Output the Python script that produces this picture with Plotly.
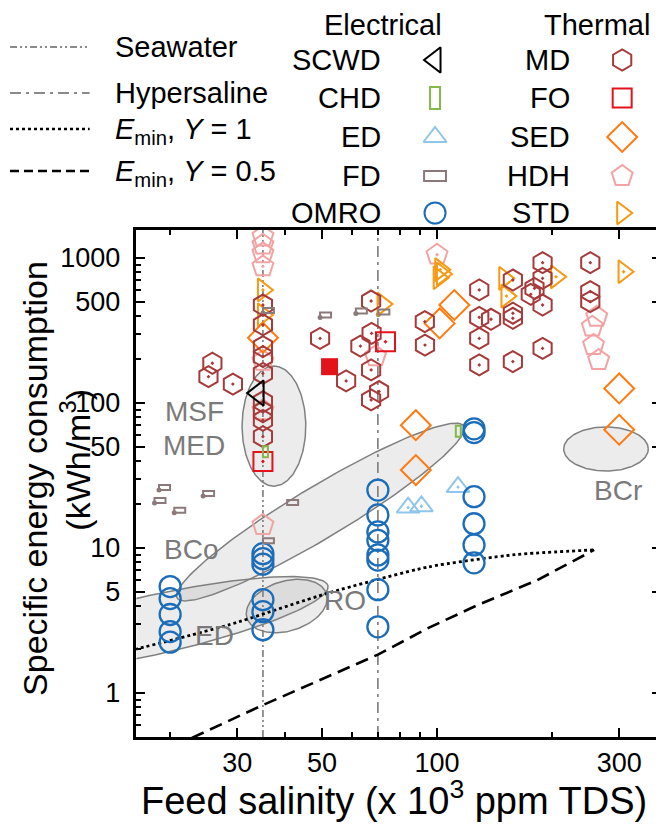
import numpy as np
import plotly.graph_objects as go

# ---------------- data (feed salinity in 10^3 ppm TDS, SEC in kWh/m3) ----------------
SEAWATER = 35
HYPERSALINE = 70

md_x = [35, 35, 35, 35, 35, 35, 35, 35, 35,
        25.8, 25.2, 29.2, 49.4, 57.8, 63, 67.2, 67.4, 67.2, 70.5, 67.2,
        92.9, 93, 129, 129, 138.5, 129, 129, 158, 158, 158, 158, 180, 176,
        189, 189, 189, 189, 252, 252, 252]
md_y = [474, 346, 245, 209, 160, 102, 87, 76, 58.6,
        188, 152, 135, 279, 142, 247, 505, 302, 169, 120, 105,
        364, 251, 602, 390, 378, 279, 183, 705, 416, 384, 193, 618, 562,
        928, 724, 474, 238, 928, 586, 500]

fo_x = [35, 73.3]
fo_y = [39.5, 264.5]
fo_filled_x = [52.3]
fo_filled_y = [178]

sed_x = [35, 111, 101.6, 88, 88, 300, 300]
sed_y = [282, 474, 354, 70.3, 34.5, 126, 65.4]

hdh_x = [35, 35, 35, 35, 35, 35, 69, 262, 255, 257, 265]
hdh_y = [1405, 1235, 1077, 195, 89, 14.4, 210, 393, 336, 251, 198]
hdh_dot_x = [35, 100]
hdh_dot_y = [875, 1054]

std_x = [35, 103, 101, 72, 150]
std_y = [405, 775, 731, 481, 724]
std_dot_x = [35, 102, 152, 205, 308]
std_dot_y = [602, 831, 546, 742, 804]

scwd_x = [34]
scwd_y = [117]

chd_x = [35, 112]
chd_y = [42.3, 58.6]

ed_x = [84, 91, 113.5]
ed_y = [19, 19.4, 26.3]

fd_dot_x = [18.7, 18.2, 20.5, 24.4, 35, 49.4, 61.3, 70.2]
fd_dot_y = [25.1, 20.4, 17.5, 22.8, 417, 388, 415, 408]
fd_x = [40.5, 35]
fd_y = [19.8, 10.8]

omro_x = [20, 20, 20, 20, 20,
          35, 35, 35, 35, 35, 35,
          70, 70, 70, 70, 70, 70, 70, 70,
          125, 125, 125, 125, 125, 125]
omro_y = [5.42, 4.48, 3.48, 2.65, 2.24,
          9.14, 8.44, 7.74, 4.4, 3.64, 2.73,
          25.1, 16.9, 12.9, 11.3, 8.96, 8.26, 5.16, 2.86,
          66.4, 62.5, 22.6, 14.7, 10.5, 7.9]

# minimum energy curves
emin1_x = [15.6, 28.5, 52, 94.8, 160, 258]
emin1_y = [1.95, 2.95, 4.9, 7.4, 9.0, 9.7]
emin05_x = [22.8, 35, 70, 94.7, 128, 183, 258]
emin05_y = [0.49, 0.826, 1.84, 2.8, 4.05, 6.0, 9.7]

# technology regions: centre (data units) and conjugate semi-axes (decades)
region_names = ["MSF/MED", "BCo", "ED", "RO", "BCr"]
region_cx = [37.4, 49.5, 17.6, 40.4, 277]
region_cy = [69.3, 17.7, 2.9, 3.98, 48.2]
region_a = [(0.0, 0.414), (0.3754, 0.593), (0.469, 0.276), (0.1043, 0.0828), (0.1108, 0.0)]
region_b = [(0.0834, 0.0), (0.0347, -0.154), (0.0159, -0.2), (0.0188, -0.165), (0.0, 0.152)]

label_text = ["MSF", "MED", "BCo", "ED", "RO", "BCr"]
label_x = [23.1, 23.1, 22.7, 26.1, 57.5, 298]
label_y = [86.7, 51.3, 9.84, 2.51, 4.37, 25.1]

y_tick_vals = [1, 5, 10, 50, 100, 500, 1000]
y_minor_vals = [0.6, 0.7, 0.8, 0.9, 2, 3, 4, 6, 7, 8, 9, 20, 30, 40, 60, 70, 80, 90,
                200, 300, 400, 600, 700, 800, 900]
x_tick_vals = [30, 50, 100, 300]
x_minor_vals = [20, 40, 60, 70, 80, 90, 200]

# ---------------- styling ----------------
# the page adds an 8 px body margin, so the figure is 8 px smaller than the window
W, H = 656, 816
PL, PR, PT, PB = 129, 656, 222, 729
FONT = "Liberation Sans, Arial, Helvetica, sans-serif"

C_MD = "#a63a3a"
C_FO = "#e3131c"
C_SED = "#ff7b10"
C_HDH = "#f2a3a3"
C_STD = "#f59a12"
C_SCWD = "#000000"
C_CHD = "#84b84c"
C_ED = "#8fc6ea"
C_FD = "#8c7a7a"
C_OMRO = "#1b6db9"
C_REG = "#808080"

fig = go.Figure()

# regions
for cx, cy, a, b in zip(region_cx, region_cy, region_a, region_b):
    t = np.linspace(0, 2 * np.pi, 181)
    lx = np.log10(cx) + a[0] * np.cos(t) + b[0] * np.sin(t)
    ly = np.log10(cy) + a[1] * np.cos(t) + b[1] * np.sin(t)
    fig.add_trace(go.Scatter(x=10 ** lx, y=10 ** ly, mode="lines", fill="toself",
                             fillcolor="rgba(140,140,140,0.17)",
                             line=dict(color=C_REG, width=1.5), hoverinfo="skip"))

# E_min curves
fig.add_trace(go.Scatter(x=emin1_x, y=emin1_y, mode="lines",
                         line=dict(color="black", width=2.8, dash="dot", shape="spline",
                                   smoothing=0.6)))
fig.add_trace(go.Scatter(x=emin05_x, y=emin05_y, mode="lines",
                         line=dict(color="black", width=2.6, dash="13px,7px")))


def mk(x, y, symbol, color, size, lw=2.0):
    fig.add_trace(go.Scatter(x=x, y=y, mode="markers",
                             marker=dict(symbol=symbol, size=size, color=color,
                                         line=dict(color=color, width=lw))))


mk(fd_dot_x, fd_dot_y, "circle", C_FD, 5, 0)
mk(hdh_x, hdh_y, "pentagon-open", C_HDH, 22)
mk(hdh_dot_x, hdh_dot_y, "pentagon-open-dot", C_HDH, 22)
mk(std_x, std_y, "triangle-right-open", C_STD, 20)
mk(std_dot_x, std_dot_y, "triangle-right-open-dot", C_STD, 20)
mk(sed_x, sed_y, "diamond-open", C_SED, 23)
mk(md_x, md_y, "hexagon-open-dot", C_MD, 21)
mk(fo_x, fo_y, "square-open-dot", C_FO, 19)
mk(fo_filled_x, fo_filled_y, "square", C_FO, 17, 0)
mk(scwd_x, scwd_y, "triangle-left-open", C_SCWD, 22)
mk(ed_x, ed_y, "triangle-up-open-dot", C_ED, 20)
mk(omro_x, omro_y, "circle-open", C_OMRO, 21, 2.3)

shapes = []
# seawater / hypersaline reference lines
shapes.append(dict(type="line", xref="x", yref="y domain", x0=SEAWATER, x1=SEAWATER, y0=0, y1=1,
                   line=dict(color="#7a7a7a", width=1.6, dash="7px,3px,2px,3px,2px,3px"), layer="below"))
shapes.append(dict(type="line", xref="x", yref="y domain", x0=HYPERSALINE, x1=HYPERSALINE, y0=0, y1=1,
                   line=dict(color="#7a7a7a", width=1.6, dash="11px,5px,3px,5px"), layer="below"))

# FD rectangles (wide) and CHD rectangles (tall), pixel sized around data anchors
for x, y in zip(fd_dot_x + fd_x, fd_dot_y + fd_y):
    shapes.append(dict(type="rect", xref="x", yref="y", xsizemode="pixel", ysizemode="pixel",
                       xanchor=x, yanchor=y, x0=-11, x1=11, y0=-5, y1=5,
                       line=dict(color=C_FD, width=2)))
for x, y in zip(chd_x, chd_y):
    shapes.append(dict(type="rect", xref="x", yref="y", xsizemode="pixel", ysizemode="pixel",
                       xanchor=x, yanchor=y, x0=-5, x1=5, y0=-11, y1=11,
                       line=dict(color=C_CHD, width=2)))

annotations = []
for txt, x, y in zip(label_text, label_x, label_y):
    annotations.append(dict(text=txt, x=np.log10(x), y=np.log10(y), xref="x", yref="y",
                            showarrow=False, font=dict(family=FONT, size=28, color="#7a7a7a")))

# ---------------- legend (overlay axes in pixel units) ----------------
LEG_FS = 29
leg_line_y = [39, 85, 121, 163]
leg_text_y = [39, 85, 123, 165]
leg_line_text = ["Seawater", "Hypersaline", "<i>E</i><sub>min</sub>, <i>Y</i> = 1",
                 "<i>E</i><sub>min</sub>, <i>Y</i> = 0.5"]
leg_line_style = [dict(color="#8a8a8a", width=2, dash="7px,3px,2px,3px,2px,3px"),
                  dict(color="#8a8a8a", width=2, dash="11px,5px,3px,5px"),
                  dict(color="black", width=2.4, dash="dot"),
                  dict(color="black", width=2.4, dash="9px,5px")]
for y, ty, txt, st in zip(leg_line_y, leg_text_y, leg_line_text, leg_line_style):
    fig.add_trace(go.Scatter(x=[2, 82], y=[y, y], xaxis="x2", yaxis="y2", mode="lines", line=st))
    annotations.append(dict(text=txt, x=105, y=ty, xref="x2", yref="y2", xanchor="left",
                            showarrow=False, font=dict(family=FONT, size=LEG_FS, color="black")))

rows_y = [52, 90, 129, 168, 205]
annotations.append(dict(text="Electrical", x=377, y=17, xref="x2", yref="y2", showarrow=False,
                        font=dict(family=FONT, size=LEG_FS, color="black")))
annotations.append(dict(text="Thermal", x=592, y=17, xref="x2", yref="y2", showarrow=False,
                        font=dict(family=FONT, size=LEG_FS, color="black")))
elec_names = ["SCWD", "CHD", "ED", "FD", "OMRO"]
therm_names = ["MD", "FO", "SED", "HDH", "STD"]
for y, n1, n2 in zip(rows_y, elec_names, therm_names):
    annotations.append(dict(text=n1, x=377, y=y, xref="x2", yref="y2", xanchor="right",
                            showarrow=False, font=dict(family=FONT, size=LEG_FS, color="black")))
    annotations.append(dict(text=n2, x=567, y=y, xref="x2", yref="y2", xanchor="right",
                            showarrow=False, font=dict(family=FONT, size=LEG_FS, color="black")))

EX, TX = 429, 617
leg_markers = [(EX, rows_y[0], "triangle-left-open", C_SCWD, 22),
               (EX, rows_y[2], "triangle-up-open", C_ED, 20),
               (EX, rows_y[4], "circle-open", C_OMRO, 21),
               (TX, rows_y[0], "hexagon-open", C_MD, 21),
               (TX, rows_y[1], "square-open", C_FO, 19),
               (TX, rows_y[2], "diamond-open", C_SED, 23),
               (TX, rows_y[3], "pentagon-open", C_HDH, 22),
               (TX, rows_y[4], "triangle-right-open", C_STD, 20)]
for x, y, s, c, sz in leg_markers:
    fig.add_trace(go.Scatter(x=[x], y=[y], xaxis="x2", yaxis="y2", mode="markers",
                             marker=dict(symbol=s, size=sz, color=c, line=dict(color=c, width=2))))
shapes.append(dict(type="rect", xref="x2", yref="y2", x0=EX - 5, x1=EX + 5, y0=rows_y[1] - 11,
                   y1=rows_y[1] + 11, line=dict(color=C_CHD, width=2)))
shapes.append(dict(type="rect", xref="x2", yref="y2", x0=EX - 11, x1=EX + 11, y0=rows_y[3] - 5,
                   y1=rows_y[3] + 5, line=dict(color=C_FD, width=2)))

# axis titles
annotations.append(dict(text="Specific energy consumption", x=27, y=470,
                        xref="x2", yref="y2", textangle=-90, showarrow=False,
                        font=dict(family=FONT, size=34, color="black")))
annotations.append(dict(text="(kWh/m<sup>3</sup>)", x=67, y=452,
                        xref="x2", yref="y2", textangle=-90, showarrow=False,
                        font=dict(family=FONT, size=34, color="black")))
annotations.append(dict(text="Feed salinity (x 10<sup>3</sup> ppm TDS)", x=388, y=790,
                        xref="x2", yref="y2", showarrow=False,
                        font=dict(family=FONT, size=38, color="black")))

axis_common = dict(type="log", showline=True, linewidth=2.6, linecolor="black", mirror="ticks",
                   ticks="inside", ticklen=9, tickwidth=2, tickcolor="black", showgrid=False,
                   zeroline=False, tickfont=dict(family=FONT, size=27, color="black"))

fig.update_layout(
    width=W, height=H, margin=dict(l=0, r=0, t=0, b=0),
    paper_bgcolor="white", plot_bgcolor="rgba(0,0,0,0)", showlegend=False,
    xaxis=dict(axis_common, domain=[PL / W, PR / W], range=[1.2127, 2.5866],
               tickvals=x_tick_vals, ticktext=[str(v) for v in x_tick_vals],
               minor=dict(tickvals=x_minor_vals, ticks="inside", ticklen=5, tickwidth=2,
                          tickcolor="black", showgrid=False)),
    yaxis=dict(axis_common, domain=[(H - PB) / H, (H - PT) / H], range=[-0.3034, 3.1931],
               tickvals=y_tick_vals, ticktext=[str(v) for v in y_tick_vals],
               ticklabelstandoff=8,
               minor=dict(tickvals=y_minor_vals, ticks="inside", ticklen=5, tickwidth=2,
                          tickcolor="black", showgrid=False)),
    xaxis2=dict(domain=[0, 1], range=[0, W], visible=False, anchor="y2", fixedrange=True),
    yaxis2=dict(domain=[0, 1], range=[H, 0], visible=False, anchor="x2", fixedrange=True),
    shapes=shapes, annotations=annotations,
)

fig.write_html("out.html")
